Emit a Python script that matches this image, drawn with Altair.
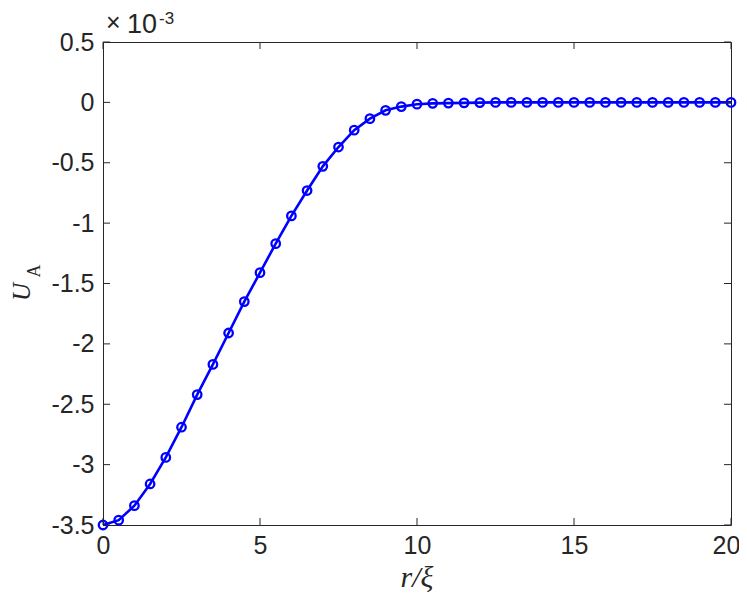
import altair as alt
import pandas as pd

r_vals = [0, 0.5, 1, 1.5, 2, 2.5, 3, 3.5, 4, 4.5, 5, 5.5, 6, 6.5, 7, 7.5, 8, 8.5, 9, 9.5,
          10, 10.5, 11, 11.5, 12, 12.5, 13, 13.5, 14, 14.5, 15, 15.5, 16, 16.5, 17, 17.5,
          18, 18.5, 19, 19.5, 20]
u_vals = [-3.50, -3.46, -3.34, -3.16, -2.94, -2.69, -2.42, -2.17, -1.91, -1.65, -1.41,
          -1.17, -0.94, -0.73, -0.53, -0.37, -0.23, -0.135, -0.066, -0.035, -0.015,
          -0.008, -0.006, -0.004, -0.002, 0, 0, 0, 0, 0, 0, 0, 0, 0, 0, 0, 0, 0, 0, 0, 0]
x_ticks = [0, 5, 10, 15, 20]
y_ticks = [0.5, 0, -0.5, -1, -1.5, -2, -2.5, -3, -3.5]

W, H = 628, 483
BLUE = "#0000ff"
AX = "#262626"
SANS = "Liberation Sans"
SERIF = "Liberation Serif"

df = pd.DataFrame({"r": r_vals, "u": u_vals})
xt = pd.DataFrame({"t": x_ticks})
yt = pd.DataFrame({"t": y_ticks})
one = pd.DataFrame({"a": [0]})

xs = alt.Scale(domain=[0, 20], nice=False, zero=False)
ys = alt.Scale(domain=[-3.5, 0.5], nice=False, zero=False)

xaxis = alt.Axis(values=x_ticks, ticks=False, domain=False, grid=False, labelFlush=False,
                 labelFont=SANS, labelFontSize=25, labelColor=AX, labelPadding=8,
                 labelOffset={"condition": {"test": "datum.value == 20", "value": -5}, "value": 0},
                 labelExpr="toString(datum.value)")
yaxis = alt.Axis(values=y_ticks, ticks=False, domain=False, grid=False, labelFlush=False,
                 labelFont=SANS, labelFontSize=25, labelColor=AX, labelPadding=9,
                 labelExpr="toString(datum.value)")

line = alt.Chart(df).mark_line(color=BLUE, strokeWidth=2.6).encode(
    x=alt.X("r:Q", scale=xs, axis=xaxis, title=None),
    y=alt.Y("u:Q", scale=ys, axis=yaxis, title=None),
)
pts = alt.Chart(df).mark_point(shape="circle", filled=False, color=BLUE,
                               strokeWidth=2.3, size=72, opacity=1).encode(
    x=alt.X("r:Q", scale=xs), y=alt.Y("u:Q", scale=ys))

TL = 7
xt_bot = alt.Chart(xt).mark_rule(color=AX, strokeWidth=1).encode(
    x=alt.X("t:Q", scale=xs), y=alt.value(H), y2=alt.value(H - TL))
xt_top = alt.Chart(xt).mark_rule(color=AX, strokeWidth=1).encode(
    x=alt.X("t:Q", scale=xs), y=alt.value(0), y2=alt.value(TL))
yt_left = alt.Chart(yt).mark_rule(color=AX, strokeWidth=1).encode(
    y=alt.Y("t:Q", scale=ys), x=alt.value(0), x2=alt.value(TL))
yt_right = alt.Chart(yt).mark_rule(color=AX, strokeWidth=1).encode(
    y=alt.Y("t:Q", scale=ys), x=alt.value(W), x2=alt.value(W - TL))

mult_x = alt.Chart(one).mark_text(text="×", font=SANS, fontSize=25, color=AX,
                                  align="left", baseline="alphabetic").encode(
    x=alt.value(3), y=alt.value(-11))
mult_10 = alt.Chart(one).mark_text(text="10", font=SANS, fontSize=27, color=AX,
                                   align="left", baseline="alphabetic").encode(
    x=alt.value(24), y=alt.value(-9))
mult_exp = alt.Chart(one).mark_text(text="-3", font=SANS, fontSize=17, color=AX,
                                    align="left", baseline="alphabetic").encode(
    x=alt.value(56), y=alt.value(-18))

xtitle = alt.Chart(one).mark_text(text="r/ξ", font=SERIF, fontSize=30, fontStyle="italic",
                                  color=AX, align="center", baseline="alphabetic").encode(
    x=alt.value(314), y=alt.value(545))
ytitle_u = alt.Chart(one).mark_text(text="U", font=SERIF, fontSize=25, fontStyle="italic",
                                    color=AX, align="center", baseline="alphabetic",
                                    angle=270).encode(
    x=alt.value(-73), y=alt.value(250))
ytitle_a = alt.Chart(one).mark_text(text="A", font=SERIF, fontSize=18,
                                    color=AX, align="center", baseline="alphabetic",
                                    angle=270).encode(
    x=alt.value(-63), y=alt.value(229))

chart = alt.layer(line, pts, xt_bot, xt_top, yt_left, yt_right,
                  mult_x, mult_10, mult_exp, xtitle, ytitle_u, ytitle_a).properties(
    width=W, height=H,
    autosize=alt.AutoSizeParams(type="none"),
    padding={"left": 95, "top": 34, "right": 8, "bottom": 69},
    background="white",
).configure_view(stroke=AX, strokeWidth=1)

chart.save("out.html", embed_options={"renderer": "svg", "actions": False})
